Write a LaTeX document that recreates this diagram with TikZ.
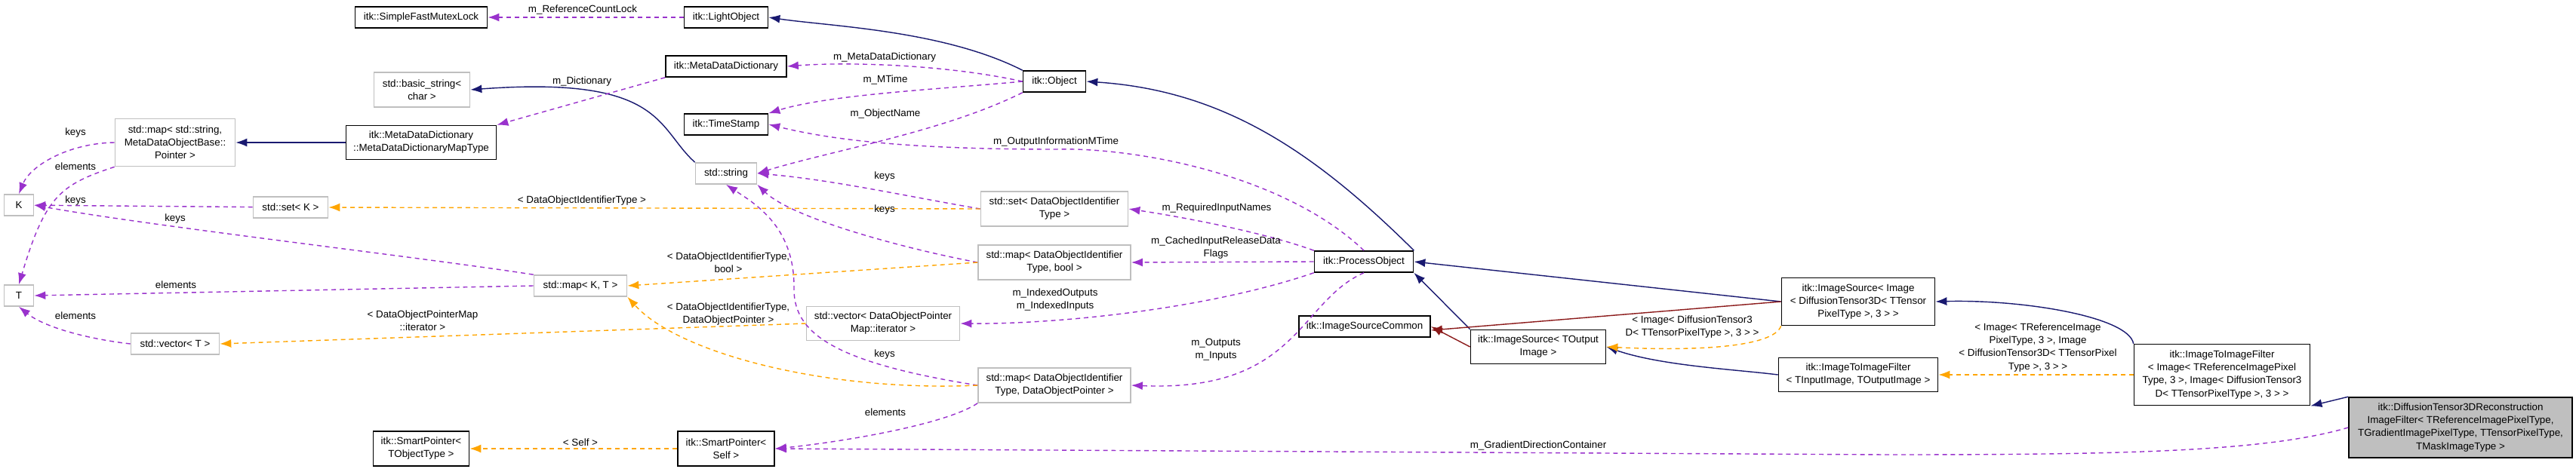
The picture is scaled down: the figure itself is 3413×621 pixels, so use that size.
\documentclass[tikz,border=0pt]{standalone}
\usepackage{fontspec}
\setmainfont{Liberation Sans}
\definecolor{InheritBlue}{RGB}{25, 25, 112}
\definecolor{MemberPurple}{RGB}{153, 50, 204}
\definecolor{TemplOrange}{RGB}{255, 165, 0}
\definecolor{ProtRed}{RGB}{139, 26, 26}
\definecolor{ExtGray}{RGB}{191, 191, 191}
\usetikzlibrary{arrows.meta}

\begin{document}
\begin{tikzpicture}[
        x=0.01cm, y=-0.01cm,
        font=\fontsize{3.8}{4.85}\selectfont,
        cls/.style={rectangle, draw=black, line width=0.45pt, fill=white, inner sep=0pt, minimum height=0.28cm, align=center},
        ext/.style={rectangle, draw=ExtGray, line width=0.45pt, fill=white, inner sep=0pt, minimum height=0.28cm, align=center},
        main/.style={cls, fill=ExtGray},
        lbl/.style={align=center, inner sep=0pt},
        tip/.style={-{Latex[length=0.15cm, width=0.11cm]}},
        inherit/.style={tip, InheritBlue, line width=0.4pt},
        member/.style={tip, MemberPurple, line width=0.4pt, dash pattern=on 1.7pt off 1.4pt},
        templ/.style={tip, TemplOrange, line width=0.4pt, dash pattern=on 1.7pt off 1.4pt},
        prot/.style={tip, ProtRed, line width=0.4pt}
    ]
        \useasboundingbox (0,0) rectangle (3413,621);

        % Left columns - std containers and helpers
        \node[ext, minimum width=0.39cm] (K) at (25,272) {K};
        \node[ext, minimum width=0.39cm] (T) at (25,392) {T};
        \node[ext, minimum width=1.59cm, minimum height=0.63cm] (mapstr) at (232,189) {std::map< std::string,\\MetaDataObjectBase::\\Pointer >};
        \node[ext, minimum width=0.99cm] (setK) at (385,275) {std::set< K >};
        \node[ext, minimum width=1.17cm] (vecT) at (232,456) {std::vector< T >};
        \node[ext, minimum width=1.23cm] (mapKT) at (769,379) {std::map< K, T >};

        % Third column
        \node[cls, minimum width=1.75cm] (mutex) at (558,23) {itk::SimpleFastMutexLock};
        \node[ext, minimum width=1.27cm, minimum height=0.46cm] (bstr) at (559,119) {std::basic\_string<\\char >};
        \node[cls, minimum width=1.99cm, minimum height=0.45cm] (mddmap) at (558,189) {itk::MetaDataDictionary\\::MetaDataDictionaryMapType};
        \node[cls, minimum width=1.27cm, minimum height=0.46cm] (spT) at (558,595) {itk::SmartPointer<\\TObjectType >};

        % Fourth column
        \node[cls, minimum width=1.11cm] (light) at (962,23) {itk::LightObject};
        \node[cls, minimum width=1.6cm] (mdd) at (962,88) {itk::MetaDataDictionary};
        \node[cls, minimum width=1.11cm] (stamp) at (962,165) {itk::TimeStamp};
        \node[ext, minimum width=0.81cm] (str) at (962,230) {std::string};
        \node[cls, minimum width=1.28cm, minimum height=0.46cm] (spSelf) at (962,595) {itk::SmartPointer<\\Self >};
        \node[ext, minimum width=2.03cm, minimum height=0.45cm] (vecDOP) at (1170,429) {std::vector< DataObjectPointer\\Map::iterator >};

        % Fifth column
        \node[cls, minimum width=0.83cm] (obj) at (1397,108) {itk::Object};
        \node[ext, minimum width=1.95cm, minimum height=0.46cm] (setDOI) at (1397,277) {std::set< DataObjectIdentifier\\Type >};
        \node[ext, minimum width=2.02cm, minimum height=0.46cm] (mapDOIb) at (1397,348) {std::map< DataObjectIdentifier\\Type, bool >};
        \node[ext, minimum width=2.02cm, minimum height=0.46cm] (mapDOIp) at (1397,511) {std::map< DataObjectIdentifier\\Type, DataObjectPointer >};

        % Pipeline classes
        \node[cls, minimum width=1.31cm] (proc) at (1807,347) {itk::ProcessObject};
        \node[cls, minimum width=1.74cm] (common) at (1808,433) {itk::ImageSourceCommon};
        \node[cls, minimum width=1.79cm, minimum height=0.45cm] (srcOut) at (2038,460) {itk::ImageSource< TOutput\\Image >};
        \node[cls, minimum width=2.03cm, minimum height=0.63cm] (srcImg) at (2462,400) {itk::ImageSource< Image\\< DiffusionTensor3D< TTensor\\PixelType >, 3 > >};
        \node[cls, minimum width=2.11cm, minimum height=0.45cm] (filterT) at (2462,497) {itk::ImageToImageFilter\\< TInputImage, TOutputImage >};
        \node[cls, minimum width=2.33cm, minimum height=0.81cm] (filterImg) at (2944,497) {itk::ImageToImageFilter\\< Image< TReferenceImagePixel\\Type, 3 >, Image< DiffusionTensor3\\D< TTensorPixelType >, 3 > >};
        \node[main, minimum width=2.96cm, minimum height=0.8cm] (recon) at (3260,567) {itk::DiffusionTensor3DReconstruction\\ImageFilter< TReferenceImagePixelType,\\TGradientImagePixelType, TTensorPixelType,\\TMaskImageType >};

        % Inheritance
        \draw[inherit] (obj.north west) .. controls (1250,40) and (1100,35) .. (light.east);
        \draw[inherit] (str.north west) .. controls (870,170) and (880,100) .. (bstr.east);
        \draw[inherit] (mddmap) -- (mapstr);
        \draw[inherit] (proc.north east) .. controls (1740,200) and (1620,120) .. (obj.east);
        \draw[inherit] (srcOut.north west) -- (proc.south east);
        \draw[inherit] (srcImg.west) -- (proc.east);
        \draw[inherit] (filterT.west) .. controls (2300,490) and (2200,485) .. (srcOut.east);
        \draw[inherit] (filterImg.north west) .. controls (2820,420) and (2680,397) .. (srcImg.east);
        \draw[inherit] (recon.north west) -- (filterImg.south east);
        \draw[prot] (srcOut.west) -- (common.east);
        \draw[prot] (srcImg.west) -- ([yshift=-0.05cm]common.east);

        % Members
        \draw[member] (light.west) -- (mutex.east);
        \draw[member] (obj.west) .. controls (1250,85) and (1120,82) .. (mdd.east);
        \draw[member] (obj.west) .. controls (1250,118) and (1100,125) .. (stamp.north east);
        \draw[member] (obj.south west) .. controls (1250,175) and (1100,200) .. (str.east);
        \draw[member] (mdd.south west) -- (mddmap.north east);
        \draw[member] (mapstr.west) .. controls (90,190) and (40,220) .. (K.north);
        \draw[member] (mapstr.south west) .. controls (80,245) and (60,260) .. (T.north);
        \draw[member] (setK) -- (K);
        \draw[member] (mapKT.north west) .. controls (550,340) and (200,300) .. (K.east);
        \draw[member] (mapKT.west) -- (T.east);
        \draw[member] (vecT.west) .. controls (120,450) and (60,435) .. (T.south);
        \draw[member] (setDOI.west) .. controls (1200,260) and (1100,238) .. (str.east);
        \draw[member] (mapDOIb.west) .. controls (1200,330) and (1050,290) .. (str.south east);
        \draw[member] (mapDOIp.west) .. controls (1100,480) and (1050,440) .. (1052,380) .. controls (1052,300) and (1000,270) .. (str.south);
        \draw[member] (mapDOIp.south west) .. controls (1250,565) and (1100,588) .. (spSelf.east);
        \draw[member] (proc.north) .. controls (1700,230) and (1500,195) .. (1399,198) .. controls (1200,198) and (1100,185) .. (stamp.east);
        \draw[member] (proc.north west) .. controls (1680,310) and (1580,290) .. (setDOI.east);
        \draw[member] (proc.west) -- (mapDOIb.east);
        \draw[member] (proc.south west) .. controls (1600,410) and (1400,430) .. (vecDOP.east);
        \draw[member] (proc.south) .. controls (1720,400) and (1720,520) .. (mapDOIp.east);
        \draw[member] (recon.west) .. controls (3000,600) and (2800,603) .. (2500,603) -- (spSelf.east);

        % Template instances
        \draw[templ] (setDOI.west) -- (setK.east);
        \draw[templ] (mapDOIb.west) -- (mapKT.east);
        \draw[templ] (mapDOIp.west) .. controls (1100,520) and (900,470) .. (mapKT.south east);
        \draw[templ] (vecDOP.west) -- (vecT.east);
        \draw[templ] (spSelf.west) -- (spT.east);
        \draw[templ] (srcImg.south west) .. controls (2350,460) and (2250,466) .. (srcOut.east);
        \draw[templ] (filterImg.west) -- (filterT.east);

        % Labels
        \node[lbl] (lRef) at (772,13) {m\_ReferenceCountLock};
        \node[lbl] (lDict) at (771,108) {m\_Dictionary};
        \node[lbl] (lMDD) at (1172,76) {m\_MetaDataDictionary};
        \node[lbl] (lMTime) at (1173,106) {m\_MTime};
        \node[lbl] (lName) at (1173,151) {m\_ObjectName};
        \node[lbl] (lOutInfo) at (1399,188) {m\_OutputInformationMTime};
        \node[lbl] (lKeysA) at (1172,234) {keys};
        \node[lbl] (lKeysB) at (1172,278) {keys};
        \node[lbl] (lKeysC) at (1172,470) {keys};
        \node[lbl] (lElemA) at (1173,547) {elements};
        \node[lbl] (lReq) at (1612,276) {m\_RequiredInputNames};
        \node[lbl] (lCached) at (1611,329) {m\_CachedInputReleaseData\\Flags};
        \node[lbl] (lIdx) at (1398,398) {m\_IndexedOutputs\\m\_IndexedInputs};
        \node[lbl] (lIO) at (1611,464) {m\_Outputs\\m\_Inputs};
        \node[lbl] (lBool) at (965,348) {< DataObjectIdentifierType,\\bool >};
        \node[lbl] (lPtr) at (965,417) {< DataObjectIdentifierType,\\DataObjectPointer >};
        \node[lbl] (lSetK) at (771,266) {< DataObjectIdentifierType >};
        \node[lbl] (lIter) at (560,425) {< DataObjectPointerMap\\::iterator >};
        \node[lbl] (lSelf) at (769,587) {< Self >};
        \node[lbl] (lKeysD) at (100,176) {keys};
        \node[lbl] (lElemB) at (100,221) {elements};
        \node[lbl] (lKeysE) at (100,266) {keys};
        \node[lbl] (lKeysF) at (232,290) {keys};
        \node[lbl] (lElemC) at (233,378) {elements};
        \node[lbl] (lElemD) at (100,419) {elements};
        \node[lbl] (lDT) at (2242,434) {< Image< DiffusionTensor3\\D< TTensorPixelType >, 3 > >};
        \node[lbl] (lRefImg) at (2700,461) {< Image< TReferenceImage\\PixelType, 3 >, Image\\< DiffusionTensor3D< TTensorPixel\\Type >, 3 > >};
        \node[lbl] (lGrad) at (2038,591) {m\_GradientDirectionContainer};
    \end{tikzpicture}
\end{document}
